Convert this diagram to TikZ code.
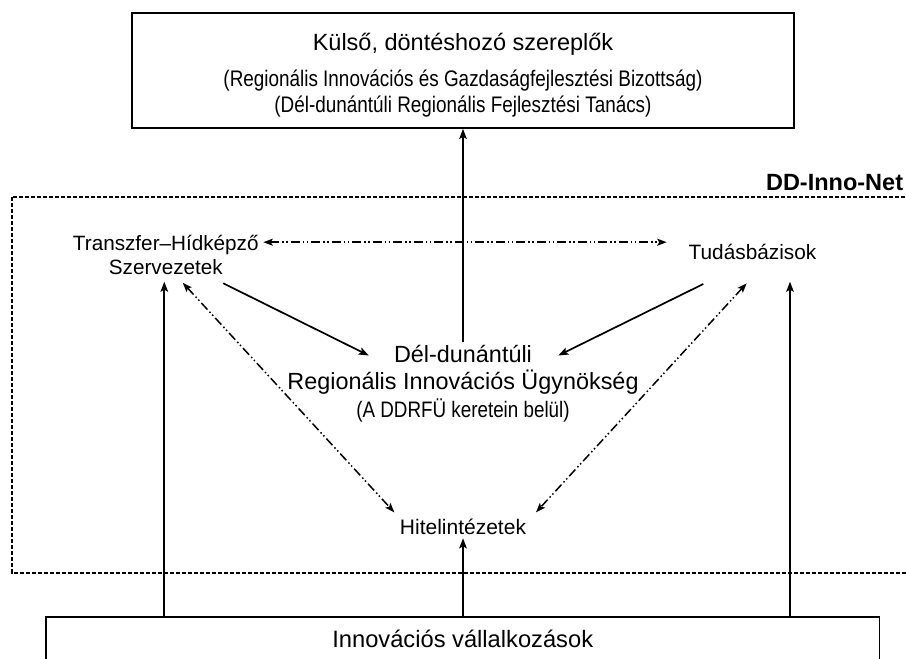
\documentclass[tikz,border=0pt]{standalone}
\usepackage{fontspec}
\setmainfont{Liberation Sans}
\newfontfamily\narrowfont[FakeStretch=0.84]{Liberation Sans}
\usetikzlibrary{arrows.meta}
\begin{document}
\begin{tikzpicture}[x=1pt,y=-1pt,
  arr/.style={line width=1.7pt, -{Stealth[length=10pt,width=7.5pt,inset=2pt]}},
  dd/.style={line width=1.5pt, dash pattern=on 9pt off 3pt on 1.5pt off 2.5pt on 1.5pt off 3pt,
     {Stealth[length=9.5pt,width=7pt,inset=2pt]}-{Stealth[length=9.5pt,width=7pt,inset=2pt]}},
  box/.style={draw, line width=1.7pt, inner sep=0pt, align=center},
  txt/.style={inner sep=0pt, align=center},
  frame/.style={line width=1.8pt, dash pattern=on 4pt off 2pt}]
\useasboundingbox (0,0) rectangle (906,659);
\clip (0,0) rectangle (906,659);
\fill[white] (0,0) rectangle (906,659);

% top box
\node[box, minimum width=662pt, minimum height=115.3pt, font=\fontsize{22}{26}\selectfont] (top) at (463,70.35)
 {\fontsize{23.5}{26}\selectfont\rule{0pt}{26pt}Külső, döntéshozó szereplők\\[10pt]
  \narrowfont\fontsize{22.5}{26}\selectfont (Regionális Innovációs és Gazdaságfejlesztési Bizottság)\\
  \narrowfont\fontsize{22.5}{26}\selectfont (Dél-dunántúli Regionális Fejlesztési Tanács)\rule[-4.7pt]{0pt}{4.7pt}};

% network frame
\draw[frame] (11.7,197.3) rectangle (920,572.7);
\node[anchor=base east, inner sep=0pt, font=\bfseries\fontsize{23.5}{27}\selectfont] (dd) at (903.3,190) {DD-Inno-Net};

% inner nodes
\node[txt, font=\fontsize{20.7}{24}\selectfont] (trans) at (165.8,254.7)
 {\rule{0pt}{16pt}Transzfer–Hídképző\\Szervezetek};
\node[txt, anchor=base, font=\fontsize{20.8}{24}\selectfont] (tud) at (752.5,259.3) {Tudásbázisok};
\node[txt, font=\fontsize{23.4}{27.5}\selectfont] (ugy) at (463,383.3)
 {\rule{0pt}{18pt}Dél-dunántúli\\Regionális Innovációs Ügynökség\\
  \narrowfont\fontsize{22.4}{27.5}\selectfont (A DDRFÜ keretein belül)\rule[-5pt]{0pt}{5pt}};
\node[txt, anchor=base, font=\fontsize{21}{24}\selectfont] (hitel) at (463,534.3) {Hitelintézetek};

% bottom box
\node[box, minimum width=833.5pt, minimum height=44.3pt, font=\fontsize{23.7}{27}\selectfont] (bot) at (462.75,638.85)
 {Innovációs vállalkozások};

% connector ends
\coordinate (tr1) at ([shift={(-1.5,27)}]trans.center);
\coordinate (tr2) at ([shift={(97.5,-12.5)}]trans.center);
\coordinate (tr3) at ([shift={(57.5,28.6)}]trans.center);
\coordinate (tr4) at ([shift={(16.9,28)}]trans.center);
\coordinate (td1) at ([shift={(-85.8,-17.1)}]tud.base);
\coordinate (td2) at ([shift={(-49.2,24.7)}]tud.base);
\coordinate (td3) at ([shift={(-5.8,24)}]tud.base);
\coordinate (td4) at ([shift={(37.5,22.4)}]tud.base);
\coordinate (u1) at ([shift={(0,-41.6)}]ugy.center);
\coordinate (u2) at ([shift={(-94.2,-27.8)}]ugy.center);
\coordinate (u3) at ([shift={(95.3,-27.8)}]ugy.center);
\coordinate (h1) at ([shift={(-68.7,-22)}]hitel.base);
\coordinate (h2) at ([shift={(73,-22)}]hitel.base);
\coordinate (h3) at ([shift={(0,4)}]hitel.base);

% connectors
\draw[arr] (bot.north -| tr1) -- (tr1);
\draw[arr] (bot.north -| h3) -- (h3);
\draw[arr] (bot.north -| td4) -- (td4);
\draw[arr] (u1) -- (u1 |- top.south);
\draw[arr] (tr3) -- (u2);
\draw[arr] (td2) -- (u3);
\draw[dd] (tr2) -- (td1);
\draw[dd] (tr4) -- (h1);
\draw[dd] (td3) -- (h2);
\end{tikzpicture}
\end{document}
